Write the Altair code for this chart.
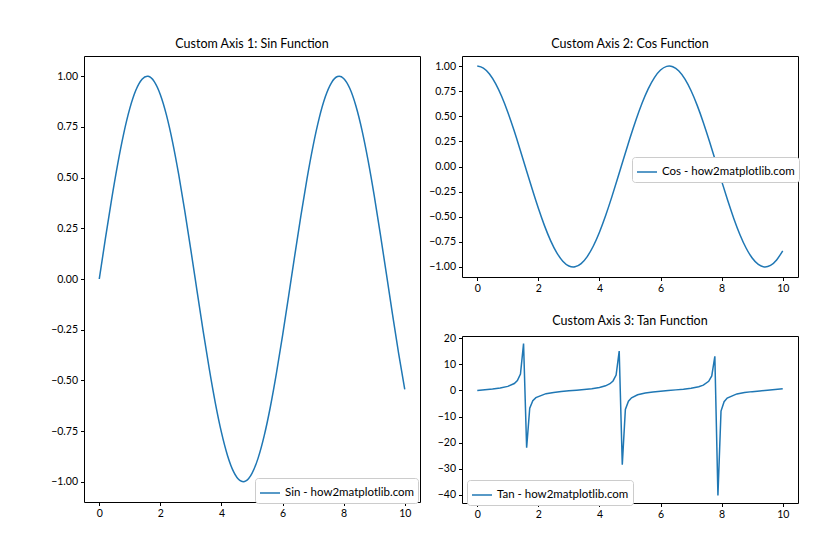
import altair as alt
import pandas as pd

# ---- data ----
wave_x = [0.0, 0.2, 0.4, 0.6, 0.8, 1.0, 1.2, 1.4, 1.6, 1.8, 2.0, 2.2, 2.4, 2.6, 2.8, 3.0,
          3.2, 3.4, 3.6, 3.8, 4.0, 4.2, 4.4, 4.6, 4.8, 5.0, 5.2, 5.4, 5.6, 5.8, 6.0, 6.2,
          6.4, 6.6, 6.8, 7.0, 7.2, 7.4, 7.6, 7.8, 8.0, 8.2, 8.4, 8.6, 8.8, 9.0, 9.2, 9.4,
          9.6, 9.8, 10.0]
sin_y = [0.0, 0.1987, 0.3894, 0.5646, 0.7174, 0.8415, 0.9320, 0.9854, 0.9996, 0.9738,
         0.9093, 0.8085, 0.6755, 0.5155, 0.3350, 0.1411, -0.0584, -0.2555, -0.4425, -0.6119,
         -0.7568, -0.8716, -0.9516, -0.9937, -0.9962, -0.9589, -0.8835, -0.7728, -0.6313,
         -0.4646, -0.2794, -0.0831, 0.1165, 0.3115, 0.4941, 0.6570, 0.7937, 0.8987, 0.9679,
         0.9985, 0.9894, 0.9407, 0.8546, 0.7344, 0.5849, 0.4121, 0.2229, 0.0248, -0.1743,
         -0.3665, -0.5440]
cos_y = [1.0, 0.9801, 0.9211, 0.8253, 0.6967, 0.5403, 0.3624, 0.1700, -0.0292, -0.2272,
         -0.4161, -0.5885, -0.7374, -0.8569, -0.9422, -0.9900, -0.9983, -0.9668, -0.8968,
         -0.7910, -0.6536, -0.4903, -0.3073, -0.1122, 0.0875, 0.2837, 0.4685, 0.6347, 0.7756,
         0.8855, 0.9602, 0.9965, 0.9932, 0.9502, 0.8694, 0.7539, 0.6084, 0.4385, 0.2513,
         0.0540, -0.1455, -0.3392, -0.5193, -0.6787, -0.8111, -0.9111, -0.9748, -0.9997,
         -0.9841, -0.9304, -0.8391]
tan_x = [0.0, 0.25, 0.5, 0.75, 1.0, 1.2121, 1.3131, 1.4141, 1.5152, 1.6162, 1.7172, 1.8182,
         1.9192, 2.25, 2.5, 2.75, 3.0, 3.25, 3.5, 3.75, 4.0, 4.2, 4.3434, 4.4444, 4.5455,
         4.6465, 4.7475, 4.8485, 4.9495, 5.0505, 5.25, 5.5, 5.75, 6.0, 6.25, 6.5, 6.75, 7.0,
         7.25, 7.4, 7.5758, 7.6768, 7.7778, 7.8788, 7.9798, 8.0808, 8.1818, 8.5, 8.75, 9.0,
         9.25, 9.5, 9.75, 10.0]
tan_y = [0.0, 0.2553, 0.5463, 0.9316, 1.5574, 2.667, 3.794, 6.33, 17.97, -22.01, -6.78,
         -3.96, -2.75, -1.238, -0.747, -0.413, -0.1425, 0.1088, 0.3746, 0.6975, 1.1578,
         1.777, 2.586, 3.64, 5.94, 15.15, -28.48, -7.30, -4.14, -2.844, -1.677, -0.9956,
         -0.5893, -0.2910, -0.0332, 0.2203, 0.5045, 0.8714, 1.450, 2.049, 3.50, 5.58, 13.10,
         -40.31, -7.91, -4.33, -2.941, -1.330, -0.800, -0.4523, -0.1766, 0.0753, 0.3372,
         0.6484]

x_ticks = [0, 2, 4, 6, 8, 10]
wave_ticks = [-1.0, -0.75, -0.5, -0.25, 0.0, 0.25, 0.5, 0.75, 1.0]
tan_ticks = [-40, -30, -20, -10, 0, 10, 20]

BLUE = "#1f77b4"
FONT = "Lato"


def panel(xs, ys, label, title, ydom, yticks, yfmt, w, h, lx, ly, interp):
    df = pd.DataFrame({"x": xs, "y": ys, "s": [label] * len(xs)})
    return alt.Chart(df, title=title).mark_line(
        strokeWidth=1.5, color=BLUE, interpolate=interp
    ).encode(
        x=alt.X("x:Q", scale=alt.Scale(domain=[-0.5, 10.5], nice=False, zero=False),
                axis=alt.Axis(values=x_ticks, format="d", title=None)),
        y=alt.Y("y:Q", scale=alt.Scale(domain=ydom, nice=False, zero=False),
                axis=alt.Axis(values=yticks, format=yfmt, title=None)),
        color=alt.Color("s:N", scale=alt.Scale(range=[BLUE]),
                        legend=alt.Legend(title=None, orient="none", legendX=lx, legendY=ly,
                                          symbolType="stroke", symbolSize=400,
                                          symbolStrokeWidth=1.5, labelFontSize=11.5,
                                          labelColor="black", labelFont=FONT,
                                          padding=4, strokeColor="#cccccc",
                                          fillColor="white", cornerRadius=3)),
    ).properties(width=w, height=h)


left = panel(wave_x, sin_y, "Sin - how2matplotlib.com", "Custom Axis 1: Sin Function",
             [-1.1, 1.1], wave_ticks, ".2f", 336, 446, 171, 422, "natural")
top = panel(wave_x, cos_y, "Cos - how2matplotlib.com", "Custom Axis 2: Cos Function",
            [-1.1, 1.1], wave_ticks, ".2f", 336, 221, 170, 101, "natural")
bottom = panel(tan_x, tan_y, "Tan - how2matplotlib.com", "Custom Axis 3: Tan Function",
               [-43.2, 20.9], tan_ticks, "d", 336, 167, 5, 144, "linear")

right = alt.vconcat(top, bottom, spacing=19).resolve_scale(color="independent").resolve_legend(color="independent")
chart = alt.hconcat(left, right, spacing=7).resolve_scale(color="independent").resolve_legend(color="independent")

chart = chart.properties(
    padding={"left": 50, "top": 37, "right": 5, "bottom": 5},
    background="white",
).configure_view(
    stroke="black", strokeWidth=1
).configure_axis(
    domain=False, grid=False, tickColor="black", tickSize=3.5, tickWidth=1,
    labelFontSize=10.5, labelColor="black", labelFont=FONT, labelPadding=3,
).configure_title(
    fontSize=12.5, fontWeight="normal", color="black", font=FONT, offset=6,
)

chart.save("out.html", embed_options={"renderer": "svg", "actions": False})
